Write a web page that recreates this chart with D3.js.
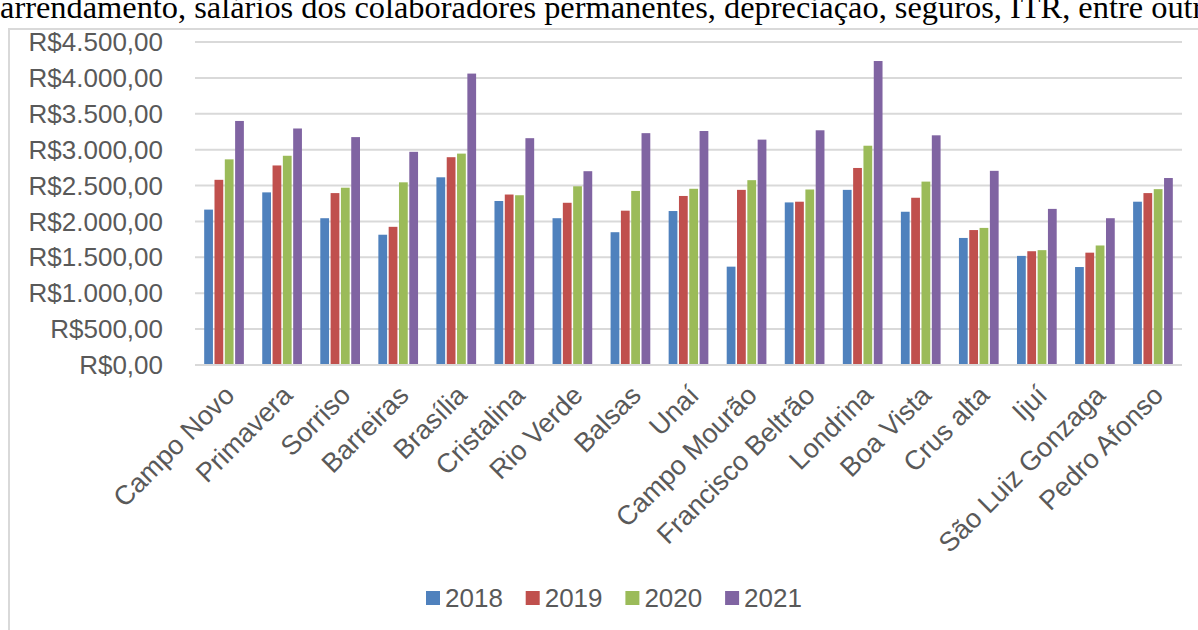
<!DOCTYPE html>
<html>
<head>
<meta charset="utf-8">
<script src="https://cdn.jsdelivr.net/npm/d3@7"></script>
<style>
  body { margin: 0; background: #fff; }
  svg { display: block; }
</style>
</head>
<body>
<script>
var cities = ["Campo Novo", "Primavera", "Sorriso", "Barreiras", "Brasília", "Cristalina",
  "Rio Verde", "Balsas", "Unaí", "Campo Mourão", "Francisco Beltrão", "Londrina",
  "Boa Vista", "Crus alta", "Ijuí", "São Luiz Gonzaga", "Pedro Afonso"];
var years = ["2018", "2019", "2020", "2021"];
var v2018 = [2165, 2405, 2045, 1815, 2615, 2285, 2045, 1850, 2145, 1370, 2265, 2440, 2135, 1770, 1520, 1365, 2275];
var v2019 = [2580, 2780, 2395, 1925, 2895, 2375, 2260, 2150, 2355, 2440, 2275, 2745, 2330, 1880, 1585, 1565, 2395];
var v2020 = [2865, 2915, 2470, 2545, 2945, 2365, 2490, 2425, 2455, 2575, 2445, 3055, 2555, 1910, 1600, 1665, 2450];
var v2021 = [3400, 3295, 3175, 2970, 4060, 3160, 2700, 3230, 3260, 3140, 3270, 4235, 3200, 2705, 2175, 2045, 2605];
var yTicks = [0, 500, 1000, 1500, 2000, 2500, 3000, 3500, 4000, 4500];
var colors = ["#4f81bd", "#c0504d", "#9bbb59", "#8064a2"];
var topText = "arrendamento, salários dos colaboradores permanentes, depreciação, seguros, ITR, entre outros";

var W = 1198, H = 630;
var plot = {left: 195, right: 1182, top: 42, bottom: 365};

var series = [v2018, v2019, v2020, v2021];
var rows = cities.map(function(c, i){
  return {city: c, vals: years.map(function(y, k){ return {year: y, k: k, v: series[k][i]}; })};
});

var br = d3.formatLocale({decimal: ",", thousands: ".", grouping: [3], currency: ["R$", ""]});
var fmt = br.format("$,.2f");

var svg = d3.select("body").append("svg")
    .attr("width", W).attr("height", H)
    .attr("viewBox", "0 0 " + W + " " + H);

// cropped text line from the document above the chart
svg.append("text")
    .attr("x", 0).attr("y", 18)
    .style("font-family", "'Liberation Serif', 'Times New Roman', serif")
    .style("font-size", "32.4px")
    .attr("fill", "#000")
    .text(topText);

// chart area border (runs off the right and bottom)
svg.append("rect")
    .attr("x", 9).attr("y", 29)
    .attr("width", W + 20).attr("height", H)
    .attr("fill", "none")
    .attr("stroke", "#d9d9d9")
    .attr("stroke-width", 2);

var x0 = d3.scaleBand().domain(cities).range([plot.left, plot.right]);
var groupW = 39.7;
var x1 = d3.scaleBand().domain(years).range([0, groupW]).paddingInner(0.15);
var y = d3.scaleLinear().domain([0, 4500]).range([plot.bottom, plot.top]);

// gridlines
svg.append("g").selectAll("line")
    .data(yTicks.slice(1))
    .enter().append("line")
    .attr("x1", plot.left).attr("x2", plot.right)
    .attr("y1", function(d){ return y(d); })
    .attr("y2", function(d){ return y(d); })
    .attr("stroke", "#d9d9d9")
    .attr("stroke-width", 2);

// y axis labels
svg.append("g").selectAll("text")
    .data(yTicks)
    .enter().append("text")
    .attr("x", 163)
    .attr("y", function(d){ return y(d); })
    .attr("dy", "0.35em")
    .attr("text-anchor", "end")
    .attr("fill", "#595959")
    .style("font-family", "'Liberation Sans', Arial, sans-serif")
    .style("font-size", "26px")
    .text(function(d){ return fmt(d); });

// bars
var groups = svg.append("g").selectAll(".grp")
    .data(rows)
    .enter().append("g")
    .attr("class", "grp")
    .attr("transform", function(d){
      return "translate(" + (x0(d.city) + (x0.bandwidth() - groupW) / 2) + ",0)";
    });

groups.selectAll("rect")
    .data(function(d){ return d.vals; })
    .enter().append("rect")
    .attr("x", function(d){ return x1(d.year); })
    .attr("y", function(d){ return y(d.v); })
    .attr("width", x1.bandwidth())
    .attr("height", function(d){ return y(0) - y(d.v); })
    .attr("fill", function(d){ return colors[d.k]; });

// x axis line
svg.append("line")
    .attr("x1", plot.left).attr("x2", plot.right)
    .attr("y1", y(0)).attr("y2", y(0))
    .attr("stroke", "#d9d9d9")
    .attr("stroke-width", 2);

// category labels
svg.append("g").selectAll("text")
    .data(cities)
    .enter().append("text")
    .attr("transform", function(d){
      return "translate(" + (x0(d) + x0.bandwidth() / 2 + 12) + ",397) rotate(-45)";
    })
    .attr("text-anchor", "end")
    .attr("fill", "#595959")
    .style("font-family", "'Liberation Sans', Arial, sans-serif")
    .style("font-size", "27px")
    .text(function(d){ return d; });

// legend
var legend = svg.append("g").selectAll("g")
    .data(years)
    .enter().append("g")
    .attr("transform", function(d, i){ return "translate(" + (426 + i * 99.7) + ",591)"; });

legend.append("rect")
    .attr("width", 14).attr("height", 14)
    .attr("fill", function(d, i){ return colors[i]; });

legend.append("text")
    .attr("x", 19).attr("y", 16)
    .attr("fill", "#595959")
    .style("font-family", "'Liberation Sans', Arial, sans-serif")
    .style("font-size", "26px")
    .text(function(d){ return d; });
</script>
</body>
</html>
